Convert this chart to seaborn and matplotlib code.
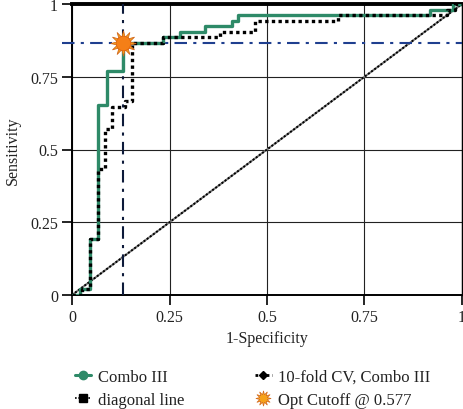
import matplotlib
matplotlib.use("Agg")
import matplotlib.pyplot as plt
from matplotlib.lines import Line2D
import seaborn as sns
import pandas as pd

# ---- data ----
combo_fpr = [0.0, 0.02, 0.046, 0.067, 0.09, 0.131, 0.233, 0.277, 0.341, 0.41, 0.426, 0.918, 0.977, 1.0]
combo_tpr = [0.0, 0.019, 0.192, 0.654, 0.769, 0.865, 0.885, 0.904, 0.923, 0.942, 0.962, 0.981, 1.0, 1.0]
cv_fpr = [0.0, 0.025, 0.046, 0.067, 0.085, 0.103, 0.136, 0.154, 0.233, 0.38, 0.469, 0.682, 0.962, 0.982, 1.0]
cv_tpr = [0.0, 0.019, 0.192, 0.433, 0.57, 0.646, 0.667, 0.865, 0.885, 0.904, 0.942, 0.962, 0.981, 1.0, 1.0]
diag_x = [0.0, 1.0]
diag_y = [0.0, 1.0]
opt_fpr = 0.131
opt_tpr = 0.865
ticks = [0, 0.25, 0.5, 0.75, 1]
tick_labels = ["0", "0.25", "0.5", "0.75", "1"]
legend_labels = ["Combo III", "diagonal line", "10-fold CV, Combo III", "Opt Cutoff @ 0.577"]

sns.set_style("white")
plt.rcParams["font.family"] = ["Liberation Serif", "DejaVu Serif"]

GREEN = "#2e8a68"

fig = plt.figure(figsize=(4.64, 4.10), dpi=100)
ax = fig.add_axes([72 / 464, 1 - 296 / 410, 390 / 464, 291 / 410])

ax.grid(True, color="#222222", lw=0.8, zorder=0)
ax.set_axisbelow(True)

df_c = pd.DataFrame({"fpr": combo_fpr, "tpr": combo_tpr})
df_v = pd.DataFrame({"fpr": cv_fpr, "tpr": cv_tpr})
df_d = pd.DataFrame({"x": diag_x, "y": diag_y})

sns.lineplot(data=df_d, x="x", y="y", ax=ax, color="#777777", lw=1.4,
             estimator=None, sort=False, zorder=2)
sns.lineplot(data=df_d, x="x", y="y", ax=ax, color="black", lw=1.4,
             linestyle=(0, (1, 1)), estimator=None, sort=False, zorder=2)

ax.axvline(opt_fpr, color="#0d1a3a", lw=1.5, linestyle=(0, (6, 3, 1.5, 3)), zorder=3)
ax.axhline(opt_tpr, xmin=-0.025, xmax=1.0, color="#1f3f8f", lw=1.5,
           linestyle=(0, (6, 3, 1.5, 3)), zorder=3, clip_on=False)

sns.lineplot(data=df_c, x="fpr", y="tpr", ax=ax, color=GREEN, lw=2.4,
             drawstyle="steps-post", estimator=None, sort=False, zorder=4)
sns.lineplot(data=df_v, x="fpr", y="tpr", ax=ax, color="black", lw=2.4,
             linestyle=(0, (1, 1)), drawstyle="steps-post", estimator=None,
             sort=False, zorder=5)

ax.scatter([opt_fpr], [opt_tpr], s=330, marker=(12, 1, 0), color="#f6a21a",
           edgecolor="#d2691e", lw=0.6, zorder=6)
ax.scatter([opt_fpr], [opt_tpr], s=110, marker="o", color="#f57f17",
           edgecolor="#e06010", lw=0.5, zorder=7)

ax.set_xlim(0, 1)
ax.set_ylim(0, 1)
ax.set_xticks(ticks)
ax.set_xticklabels(tick_labels)
ax.set_yticks(ticks)
ax.set_yticklabels(tick_labels)
ax.tick_params(axis="both", direction="out", length=7, width=1.2, color="black",
               labelsize=11.5, labelcolor="#222222", bottom=True, left=True, pad=3)
ax.set_xlabel("1-Specificity", fontsize=11.5, color="#222222", labelpad=4)
ax.set_ylabel("Sensitivity", fontsize=11.5, color="#222222", labelpad=7)

for s in ["left", "bottom"]:
    ax.spines[s].set_color("black")
    ax.spines[s].set_linewidth(1.4)
ax.spines["top"].set_linewidth(2.8)
ax.spines["top"].set_color("black")
ax.spines["right"].set_linewidth(1.0)
ax.spines["right"].set_color("black")

handles = [
    Line2D([], [], color=GREEN, lw=2.2, marker="o", markersize=6),
    Line2D([], [], color="black", lw=1.2, linestyle=(0, (1, 1)), marker="s", markersize=6),
    Line2D([], [], color="black", lw=2.0, linestyle=(0, (1, 1)), marker="D", markersize=4.5),
    Line2D([], [], color="#f6a21a", lw=0, marker=(12, 1, 0), markersize=11,
           markeredgecolor="#d2691e", markeredgewidth=0.5),
]
fig.legend(handles, legend_labels, loc="lower left", bbox_to_anchor=(72 / 464, -0.003),
           ncol=2, frameon=False, fontsize=12, handlelength=1.0, handletextpad=0.4,
           columnspacing=4.25, labelspacing=0.4, borderaxespad=0.0, borderpad=0.15,
           labelcolor="#222222")

fig.savefig("out.png", dpi=100)
